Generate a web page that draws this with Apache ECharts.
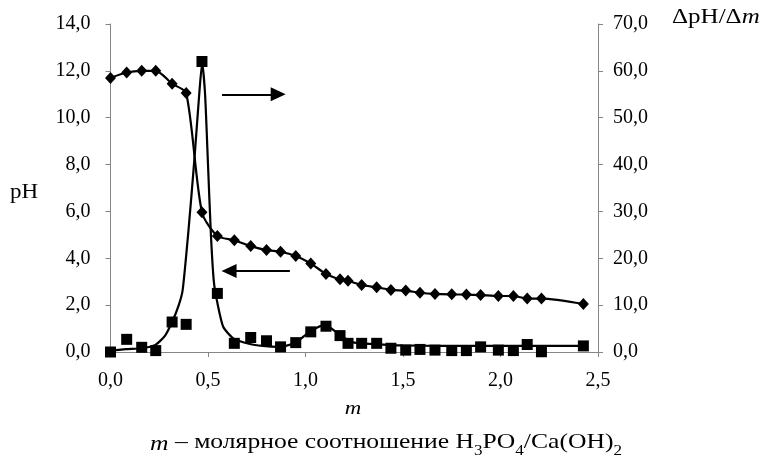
<!DOCTYPE html>
<html>
<head>
<meta charset="utf-8">
<script src="https://cdn.jsdelivr.net/npm/echarts@6/dist/echarts.min.js"></script>
<style>
html,body{margin:0;padding:0;background:#fff;}
#chart{width:770px;height:462px;}
</style>
</head>
<body>
<div id="chart"></div>
<script>
// ---- data ----
var mValues = [0, 0.083, 0.16, 0.232, 0.316, 0.388, 0.469, 0.548, 0.635, 0.719, 0.80, 0.872, 0.95, 1.027, 1.105, 1.177, 1.218, 1.288, 1.365, 1.438, 1.514, 1.587, 1.664, 1.75, 1.825, 1.898, 1.989, 2.066, 2.137, 2.21, 2.425];
var pHValues = [11.7, 11.93, 12.0, 12.0, 11.45, 11.05, 5.96, 4.95, 4.77, 4.52, 4.35, 4.28, 4.10, 3.78, 3.33, 3.10, 3.04, 2.86, 2.76, 2.65, 2.62, 2.53, 2.48, 2.46, 2.45, 2.43, 2.39, 2.39, 2.28, 2.28, 2.05];
var dpHValues = [0, 2.7, 1.0, 0.3, 6.4, 5.9, 62.0, 12.5, 1.85, 3.1, 2.4, 1.1, 2.0, 4.3, 5.5, 3.5, 1.85, 1.85, 1.85, 0.8, 0.4, 0.55, 0.4, 0.3, 0.3, 1.1, 0.4, 0.3, 1.6, 0.05, 1.3];
// smoothed curve drawn through the derivative points
var curveM = [0, 0.08, 0.16, 0.23, 0.28, 0.317, 0.35, 0.37, 0.40, 0.43, 0.455, 0.47, 0.485, 0.50, 0.515, 0.53, 0.548, 0.578, 0.63, 0.715, 0.78, 0.86, 0.945, 1.02, 1.10, 1.18, 1.25, 1.35, 1.5, 1.7, 1.9, 2.1, 2.425];
var curveV = [0.3, 0.6, 0.8, 1.5, 3.5, 6.5, 10.0, 13.2, 26, 41, 55, 61.7, 55, 40, 25, 15, 10.5, 5.4, 2.9, 1.7, 1.3, 1.1, 1.85, 4.3, 5.8, 3.5, 2.0, 1.7, 1.4, 1.3, 1.3, 1.3, 1.3];
var xTicks = [0, 0.5, 1.0, 1.5, 2.0, 2.5];
var leftTicks = [0, 2, 4, 6, 8, 10, 12, 14];
var rightTicks = [0, 10, 20, 30, 40, 50, 60, 70];
// arrows (data coordinates on the pH axis)
var arrowRight = [[0.572, 11.0], [0.86, 11.0]];
var arrowLeft = [[0.92, 3.46], [0.608, 3.46]];

function pairs(xs, ys){ return xs.map(function(x,i){ return [x, ys[i]]; }); }
function fmt(v){ return v.toFixed(1).replace('.', ','); }

var FONT = 'Liberation Serif';
var axisColor = '#868686';
var LBL = 20;

var chart = echarts.init(document.getElementById('chart'), null, {renderer:'canvas'});
chart.setOption({
  animation: false,
  backgroundColor: '#ffffff',
  textStyle: {fontFamily: FONT},
  grid: {left: 110.5, right: 172, top: 24, bottom: 110, containLabel: false},
  xAxis: {
    type: 'value', min: xTicks[0], max: xTicks[xTicks.length-1], interval: 0.5,
    axisLine: {show: true, lineStyle: {color: axisColor, width: 1}},
    axisTick: {show: true, inside: false, length: 5, lineStyle: {color: axisColor}},
    splitLine: {show: false},
    axisLabel: {formatter: fmt, fontFamily: FONT, fontSize: LBL, color: '#000', margin: 19}
  },
  yAxis: [{
    type: 'value', min: leftTicks[0], max: leftTicks[leftTicks.length-1], interval: 2,
    position: 'left',
    axisLine: {show: true, lineStyle: {color: axisColor, width: 1}},
    axisTick: {show: true, inside: false, length: 5, lineStyle: {color: axisColor}},
    splitLine: {show: false},
    axisLabel: {formatter: fmt, fontFamily: FONT, fontSize: LBL, color: '#000', margin: 20}
  }, {
    type: 'value', min: rightTicks[0], max: rightTicks[rightTicks.length-1], interval: 10,
    position: 'right',
    axisLine: {show: true, lineStyle: {color: axisColor, width: 1}},
    axisTick: {show: true, inside: false, length: 5, lineStyle: {color: axisColor}},
    splitLine: {show: false},
    axisLabel: {formatter: fmt, fontFamily: FONT, fontSize: LBL, color: '#000', margin: 15}
  }],
  series: [{
    name: 'curve', type: 'line', yAxisIndex: 1,
    data: pairs(curveM, curveV),
    smooth: 0.2, showSymbol: false, symbol: 'none',
    lineStyle: {color: '#000', width: 2.2}, z: 2
  }, {
    name: 'dpH', type: 'scatter', yAxisIndex: 1,
    data: pairs(mValues, dpHValues),
    symbol: 'rect', symbolSize: 11,
    itemStyle: {color: '#000', opacity: 1}, z: 3
  }, {
    name: 'pH', type: 'line', yAxisIndex: 0,
    data: pairs(mValues, pHValues),
    smooth: 0.25,
    symbol: 'diamond', symbolSize: [11, 12], showAllSymbol: true,
    lineStyle: {color: '#000', width: 2.2},
    itemStyle: {color: '#000', opacity: 1}, z: 4,
    markLine: {
      silent: true, symbol: ['none', 'triangle'], symbolSize: [14, 15],
      label: {show: false},
      lineStyle: {color: '#000', width: 2, type: 'solid', opacity: 1},
      itemStyle: {color: '#000'},
      data: [
        [{coord: arrowRight[0]}, {coord: arrowRight[1]}],
        [{coord: arrowLeft[0]}, {coord: arrowLeft[1]}]
      ]
    }
  }],
  graphic: [{
    type: 'text', x: 10, y: 193, scaleX: 1.15,
    style: {text: 'pH', font: '20px "Liberation Serif"', fill: '#000', textVerticalAlign: 'middle'}
  }, {
    type: 'text', x: 672, y: 18, scaleX: 1.25,
    style: {
      text: 'ΔpH/Δ{i|m}', font: '20px "Liberation Serif"', fill: '#000', textVerticalAlign: 'middle',
      rich: {i: {fontStyle: 'italic', fontFamily: FONT, fontSize: 20}}
    }
  }, {
    type: 'text', x: 353, y: 409, scaleX: 1.2,
    style: {text: 'm', font: 'italic 19px "Liberation Serif"', fill: '#000', textAlign: 'center', textVerticalAlign: 'middle'}
  }, {
    type: 'text', x: 386, y: 442, scaleX: 1.22,
    style: {
      text: '{i|m} – молярное соотношение H{s|3}PO{s|4}/Ca(OH){s|2}',
      font: '21px "Liberation Serif"', fill: '#000', textAlign: 'center', textVerticalAlign: 'middle',
      rich: {
        i: {fontStyle: 'italic', fontFamily: FONT, fontSize: 21, lineHeight: 26, verticalAlign: 'bottom'},
        s: {fontFamily: FONT, fontSize: 14, lineHeight: 26, verticalAlign: 'bottom', padding: [0,0,-3,0]}
      }
    }
  }]
});
</script>
</body>
</html>
